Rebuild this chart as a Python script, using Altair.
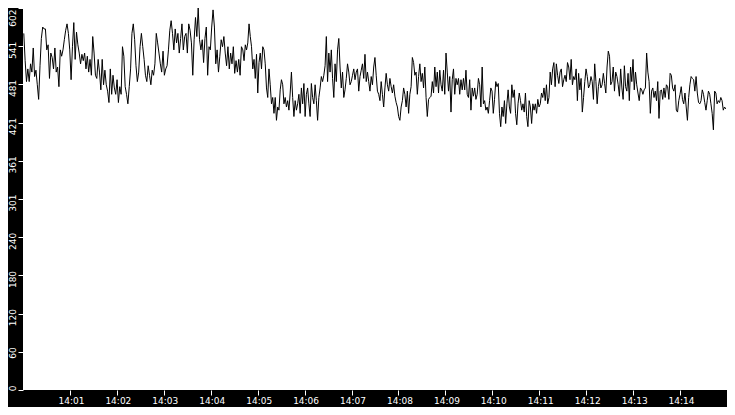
import altair as alt
import numpy as np
import pandas as pd

# Values, in three consecutive stretches of the series
SEG1 = [562, 519, 486, 506, 486, 514, 501, 539, 494, 504, 481, 458, 511, 554, 572, 569, 569, 536, 544, 491,
        531, 524, 506, 539, 501, 509, 478, 536, 526, 536, 552, 567, 577, 562, 536, 489, 541, 579, 521, 564,
        544, 531, 514, 529, 519, 531, 506, 526, 501, 521, 496, 557, 531, 496, 491, 521, 501, 473, 521, 481,
        504, 481, 471, 453, 506, 466, 496, 476, 466, 489, 453, 478, 466, 541, 526, 478, 466, 451, 478, 506,
        562, 577, 552, 511, 486, 501, 541, 562, 541, 521, 496, 486, 511, 496, 481, 504, 496, 514, 562, 547,
        531, 514, 501, 534, 496, 506, 511, 536, 567, 582, 562, 536, 569, 547, 562, 531, 554, 577, 536, 557,
        562, 531, 577, 567, 547, 496, 552, 587, 557, 602, 552, 536, 552, 516, 554, 572, 496, 541, 536, 572,
        599, 572, 514, 536, 501, 526, 552, 541, 557, 531, 511, 541, 506, 531, 514, 541, 499, 519, 501, 521,
        496, 541]
SEG2 = [536, 519, 544, 536, 547, 577, 557, 541, 506, 521, 491, 529, 468, 516, 531, 506, 541, 536, 514, 476,
        461, 506, 481, 451, 461, 436, 461, 425, 446, 441, 473, 489, 481, 451, 461, 446, 456, 441, 468, 501,
        461, 431, 456, 441, 451, 466, 436, 476, 451, 483, 431, 466, 476, 451, 431, 483, 461, 451, 481, 456,
        425, 461, 476, 494, 486, 496, 511, 557, 486, 531, 501, 536, 491, 461, 514, 486, 536, 554, 509, 476,
        501, 461, 473, 491, 514, 501, 481, 486, 496, 506, 489, 501, 506, 471, 494, 504, 514, 491, 529, 486,
        501, 486, 471, 494, 481, 509, 524, 496, 471, 466, 456, 486, 466, 446, 476, 499, 481, 471, 491, 478,
        468, 481, 463, 453, 446, 431, 425, 446, 456, 476, 466, 446, 471, 436, 466, 478, 524, 516, 496, 501,
        466, 494, 514, 486, 499, 476, 509, 461, 431, 458, 461, 463, 486, 468, 509, 478, 501, 468, 504, 481,
        471, 504, 466, 531, 501, 471, 494, 438, 489, 506, 466, 491, 481, 491, 466, 489, 473, 491, 473, 504,
        466, 461, 489, 441, 476, 463, 476, 458, 466, 491, 481, 446]
SEG3 = [509, 451, 456, 441, 446, 436, 456, 476, 471, 436, 458, 486, 478, 483, 436, 415, 446, 431, 456, 420,
        451, 473, 446, 436, 481, 461, 473, 436, 418, 451, 468, 456, 441, 451, 438, 468, 431, 415, 456, 446,
        420, 451, 441, 451, 436, 458, 446, 451, 468, 461, 476, 456, 481, 451, 461, 501, 481, 506, 516, 478,
        514, 496, 483, 501, 506, 478, 489, 496, 486, 516, 509, 489, 521, 481, 494, 489, 506, 456, 499, 473,
        491, 438, 461, 486, 506, 494, 476, 481, 494, 486, 458, 514, 486, 451, 478, 491, 476, 481, 499, 483,
        468, 509, 534, 526, 481, 486, 509, 471, 501, 494, 481, 463, 506, 476, 458, 511, 478, 471, 499, 456,
        509, 486, 521, 473, 501, 481, 468, 456, 476, 473, 466, 473, 476, 531, 501, 486, 436, 471, 476, 461,
        471, 456, 486, 428, 471, 473, 458, 476, 461, 481, 478, 458, 499, 496, 476, 471, 481, 441, 438, 456,
        466, 478, 458, 451, 468, 446, 425, 461, 481, 494, 491, 489, 471, 494, 468, 453, 451, 456, 473, 466,
        453, 441, 456, 471, 466, 451, 436, 410, 471, 468, 451, 456, 453, 461, 456, 441, 446, 443]
SEGMENTS = [SEG1, SEG2, SEG3]
SEG_START_SEC = [1, 281, 587]
SEG_END_SEC = [281, 587, 900]

Y_MAX = 602
Y_TICKS = [round(Y_MAX * i / 10, 1) for i in range(11)]
X_TICKS = [60 * m for m in range(1, 15)]

times, values = [], []
for seg, s, e in zip(SEGMENTS, SEG_START_SEC, SEG_END_SEC):
    times.extend(np.linspace(s, e, len(seg), endpoint=False).tolist())
    values.extend(seg)
df = pd.DataFrame({"t": times, "v": values})

chart = alt.Chart(df).mark_line(color="black", strokeWidth=1, interpolate="linear").encode(
    x=alt.X("t:Q", title=None,
            scale=alt.Scale(domain=[0, 900], nice=False, zero=False),
            axis=alt.Axis(values=X_TICKS,
                          labelExpr="'14:' + (datum.value / 60 < 10 ? '0' : '') + (datum.value / 60)",
                          labelPadding=1, labelAlign="center", labelOffset=1)),
    y=alt.Y("v:Q", title=None,
            scale=alt.Scale(domain=[0, Y_MAX], nice=False),
            axis=alt.Axis(values=Y_TICKS, labelExpr="floor(datum.value)",
                          labelAngle=270, labelAlign="right", labelBaseline="bottom",
                          labelOffset={"condition": {"test": f"datum.value >= {Y_MAX}", "value": 1},
                                       "value": -5},
                          labelPadding=1)),
).properties(
    width=704, height=382,
    autosize=alt.AutoSizeParams(type="none"),
    padding={"left": 15, "top": 0, "right": 0, "bottom": 17},
).configure(
    background="black",
).configure_view(
    fill="white", strokeWidth=0,
).configure_axis(
    domain=False, grid=False,
    tickColor="white", tickSize=5, tickWidth=1,
    labelColor="white", labelFont="DejaVu Sans", labelFontSize=9,
    labelOverlap=False, labelFlush=False,
)

chart.save("out.html", embed_options={"renderer": "svg", "actions": False})
